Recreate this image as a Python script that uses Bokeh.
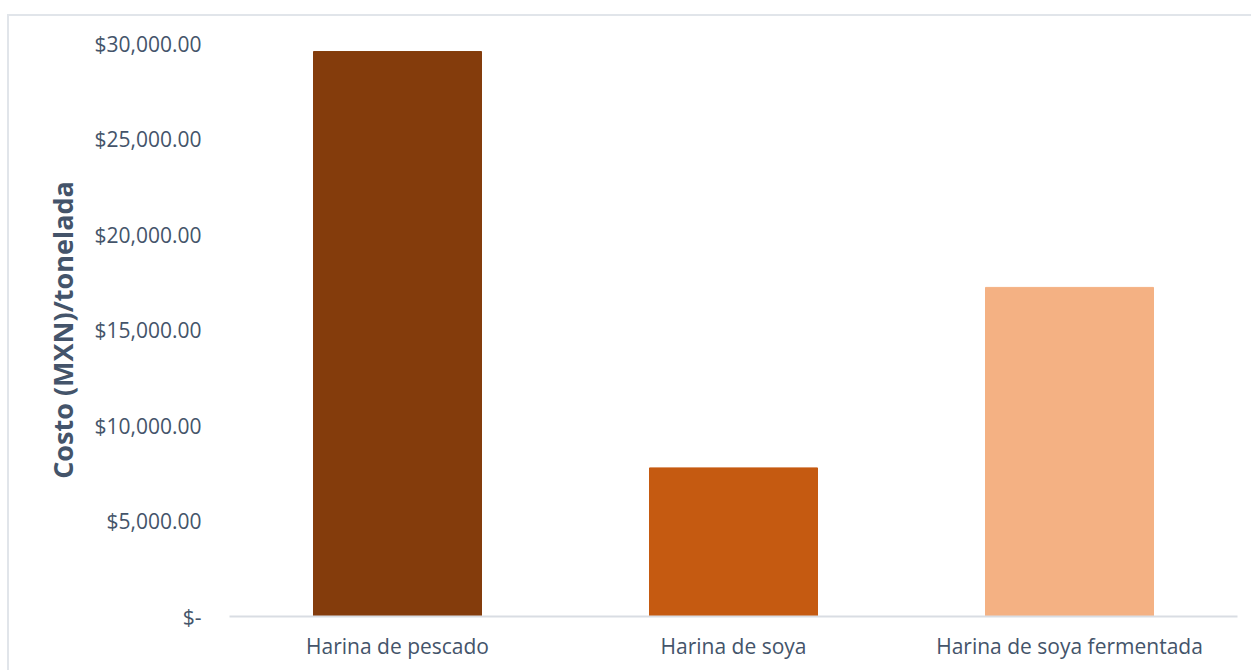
from bokeh.plotting import figure
from bokeh.models import Range1d, CustomJSTickFormatter, ColumnDataSource
from bokeh.embed import file_html
from bokeh.resources import INLINE

categories = ["Harina de pescado", "Harina de soya", "Harina de soya fermentada"]
costs = [29580, 7780, 17230]
colors = ["#843C0C", "#C55A11", "#F4B183"]
y_ticks = [0, 5000, 10000, 15000, 20000, 25000, 30000]

src = ColumnDataSource(dict(cat=categories, cost=costs, color=colors))

TXT = "#44546A"
FONT = "Open Sans"

p = figure(x_range=categories, width=1244, height=656, output_backend="svg",
           toolbar_location=None, margin=(14, 0, 0, 7),
           min_border_left=220, min_border_right=16, min_border_top=27, min_border_bottom=56)
p.y_range = Range1d(0, 30000)
p.vbar(x="cat", top="cost", width=0.5, color="color", source=src)

p.styles = {"border-left": "2px solid #E1E5EA", "border-top": "2px solid #E1E5EA"}
p.outline_line_color = None
p.xgrid.grid_line_color = None
p.ygrid.grid_line_color = None

p.yaxis.ticker = y_ticks
p.yaxis.formatter = CustomJSTickFormatter(code="""
if (tick == 0) { return "$-"; }
return "$" + tick.toLocaleString("en-US", {minimumFractionDigits: 2, maximumFractionDigits: 2});
""")
p.yaxis.axis_line_color = None
p.yaxis.major_tick_line_color = None
p.yaxis.minor_tick_line_color = None
p.yaxis.major_label_standoff = 22
p.yaxis.major_label_text_font = FONT
p.yaxis.major_label_text_font_size = "21px"
p.yaxis.major_label_text_color = TXT
p.yaxis.axis_label = "Costo (MXN)/tonelada"
p.yaxis.axis_label_text_font = FONT
p.yaxis.axis_label_text_font_size = "27px"
p.yaxis.axis_label_text_font_style = "bold"
p.yaxis.axis_label_text_color = TXT
p.yaxis.axis_label_standoff = 10

p.xaxis.axis_line_color = "#D9DDE3"
p.xaxis.axis_line_width = 2
p.xaxis.major_tick_line_color = None
p.xaxis.minor_tick_line_color = None
p.xaxis.major_label_standoff = 9
p.xaxis.major_label_text_font = FONT
p.xaxis.major_label_text_font_size = "21px"
p.xaxis.major_label_text_color = TXT

open("out.html", "w").write(file_html(p, INLINE))
